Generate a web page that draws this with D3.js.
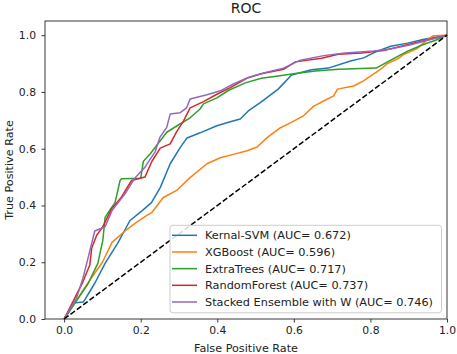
<!DOCTYPE html>
<html>
<head>
<meta charset="utf-8">
<script src="https://cdn.jsdelivr.net/npm/d3@7"></script>
<style>
  body { margin: 0; background: #fff; }
  svg { display: block; font-family: "DejaVu Sans", sans-serif; }
</style>
</head>
<body>
<svg id="chart" width="457" height="354"></svg>
<script>
const seriesNames = ["Kernal-SVM", "XGBoost", "ExtraTrees", "RandomForest", "Stacked Ensemble with W"];
const aucValues = ["0.672", "0.596", "0.717", "0.737", "0.746"];
const seriesColors = ["#1f77b4", "#ff7f0e", "#2ca02c", "#d62728", "#9467bd"];
const tickValues = [0.0, 0.2, 0.4, 0.6, 0.8, 1.0];

const svmFpr = [0,0.015,0.023,0.05,0.055,0.08,0.107,0.14,0.172,0.204,0.228,0.251,0.277,0.303,0.321,0.355,0.399,0.434,0.46,0.481,0.515,0.559,0.594,0.646,0.69,0.748,0.782,0.818,0.853,0.897,0.94,0.98,1];
const svmTpr = [0,0.03,0.056,0.06,0.07,0.126,0.196,0.267,0.347,0.382,0.41,0.463,0.547,0.604,0.638,0.656,0.681,0.695,0.705,0.733,0.765,0.81,0.86,0.878,0.884,0.909,0.92,0.944,0.961,0.972,0.986,0.995,1];

const xgbFpr = [0,0.006,0.041,0.076,0.1,0.125,0.159,0.185,0.216,0.229,0.259,0.294,0.329,0.373,0.408,0.442,0.478,0.504,0.53,0.565,0.591,0.625,0.652,0.678,0.704,0.714,0.756,0.782,0.8,0.827,0.844,0.87,0.888,0.923,0.95,0.965,1];
const xgbTpr = [0,0.014,0.084,0.154,0.2,0.27,0.31,0.337,0.365,0.375,0.428,0.453,0.498,0.547,0.568,0.58,0.593,0.606,0.639,0.674,0.691,0.716,0.75,0.768,0.786,0.81,0.821,0.839,0.856,0.88,0.9,0.916,0.933,0.954,0.986,0.998,1];

const etFpr = [0,0.028,0.063,0.088,0.101,0.107,0.12,0.133,0.146,0.15,0.2,0.207,0.225,0.251,0.268,0.294,0.329,0.355,0.364,0.399,0.43,0.473,0.515,0.559,0.604,0.656,0.716,0.815,0.853,0.897,0.94,0.97,1];
const etTpr = [0,0.055,0.126,0.196,0.277,0.358,0.385,0.41,0.488,0.494,0.496,0.556,0.582,0.628,0.658,0.68,0.709,0.74,0.758,0.779,0.806,0.832,0.848,0.856,0.865,0.874,0.88,0.884,0.912,0.944,0.968,0.982,1];

const rfFpr = [0,0.023,0.049,0.067,0.072,0.085,0.1,0.124,0.15,0.176,0.211,0.229,0.251,0.277,0.294,0.312,0.329,0.364,0.399,0.434,0.478,0.512,0.573,0.604,0.672,0.716,0.777,0.835,0.891,0.934,0.97,1];
const rfTpr = [0,0.061,0.131,0.19,0.25,0.295,0.323,0.388,0.43,0.488,0.5,0.555,0.602,0.617,0.66,0.698,0.744,0.766,0.792,0.815,0.849,0.863,0.88,0.906,0.919,0.933,0.937,0.946,0.965,0.979,0.99,1];

const stFpr = [0,0.032,0.049,0.063,0.08,0.107,0.125,0.159,0.185,0.211,0.238,0.25,0.268,0.277,0.303,0.32,0.329,0.373,0.408,0.442,0.478,0.521,0.573,0.617,0.678,0.734,0.809,0.853,0.905,0.957,1];
const stTpr = [0,0.073,0.143,0.218,0.31,0.325,0.382,0.441,0.497,0.535,0.59,0.64,0.675,0.722,0.727,0.744,0.775,0.79,0.804,0.828,0.849,0.867,0.884,0.912,0.928,0.937,0.944,0.951,0.966,0.985,1];

const fprList = [svmFpr, xgbFpr, etFpr, rfFpr, stFpr];
const tprList = [svmTpr, xgbTpr, etTpr, rfTpr, stTpr];

const svg = d3.select("#chart");
const L = 45, R = 447, T = 21, B = 319;
const x = d3.scaleLinear().domain([-0.05, 1.0]).range([L, R]);
const y = d3.scaleLinear().domain([0, 1.05]).range([B, T]);

const lineGen = d3.line().x(d => x(d[0])).y(d => y(d[1]));

const plot = svg.append("g");
seriesNames.forEach((name, i) => {
  const pts = fprList[i].map((f, j) => [f, tprList[i][j]]);
  plot.append("path")
    .attr("d", lineGen(pts))
    .attr("fill", "none")
    .attr("stroke", seriesColors[i])
    .attr("stroke-width", 1.5)
    .attr("stroke-linejoin", "round");
});
plot.append("path")
  .attr("d", lineGen([[0, 0], [1, 1]]))
  .attr("fill", "none")
  .attr("stroke", "#000")
  .attr("stroke-width", 1.5)
  .attr("stroke-dasharray", "5.5,2.4");

// axes
const xAxis = d3.axisBottom(x).tickValues(tickValues).tickFormat(d3.format(".1f")).tickSize(3.5).tickPadding(4);
const yAxis = d3.axisLeft(y).tickValues(tickValues).tickFormat(d3.format(".1f")).tickSize(3.5).tickPadding(5.5);
const gx = svg.append("g").attr("transform", `translate(0,${B})`).call(xAxis);
const gy = svg.append("g").attr("transform", `translate(${L},0)`).call(yAxis);
[gx, gy].forEach(g => {
  g.select(".domain").remove();
  g.selectAll("text").attr("font-size", 10.8).attr("font-family", "DejaVu Sans").attr("fill", "#222");
  g.selectAll("line").attr("stroke", "#222").attr("stroke-width", 0.9);
});

// frame
svg.append("rect")
  .attr("x", L).attr("y", T).attr("width", R - L).attr("height", B - T)
  .attr("fill", "none").attr("stroke", "#222").attr("stroke-width", 0.9);

// title and labels
svg.append("text").attr("x", (L + R) / 2).attr("y", 12.5).attr("text-anchor", "middle")
  .attr("font-size", 14).attr("fill", "#222").text("ROC");
svg.append("text").attr("x", (L + R) / 2).attr("y", 351.5).attr("text-anchor", "middle")
  .attr("font-size", 11.2).attr("fill", "#222").text("False Positive Rate");
svg.append("text").attr("transform", `translate(13,${(T + B) / 2}) rotate(-90)`).attr("text-anchor", "middle")
  .attr("font-size", 11.2).attr("fill", "#222").text("True Positive Rate");

// legend
const lg = svg.append("g");
lg.append("rect").attr("x", 170).attr("y", 225.3).attr("width", 271.5).attr("height", 87.5)
  .attr("rx", 3).attr("fill", "#fff").attr("fill-opacity", 0.85)
  .attr("stroke", "#ccc").attr("stroke-width", 1);
seriesNames.forEach((name, i) => {
  const yy = 235.3 + i * 16.67;
  lg.append("line").attr("x1", 172).attr("x2", 197).attr("y1", yy).attr("y2", yy)
    .attr("stroke", seriesColors[i]).attr("stroke-width", 1.5);
  lg.append("text").attr("x", 205).attr("y", yy).attr("dy", "0.35em")
    .attr("font-size", 11.3).attr("fill", "#222")
    .text(`${name} (AUC= ${aucValues[i]})`);
});
</script>
</body>
</html>
